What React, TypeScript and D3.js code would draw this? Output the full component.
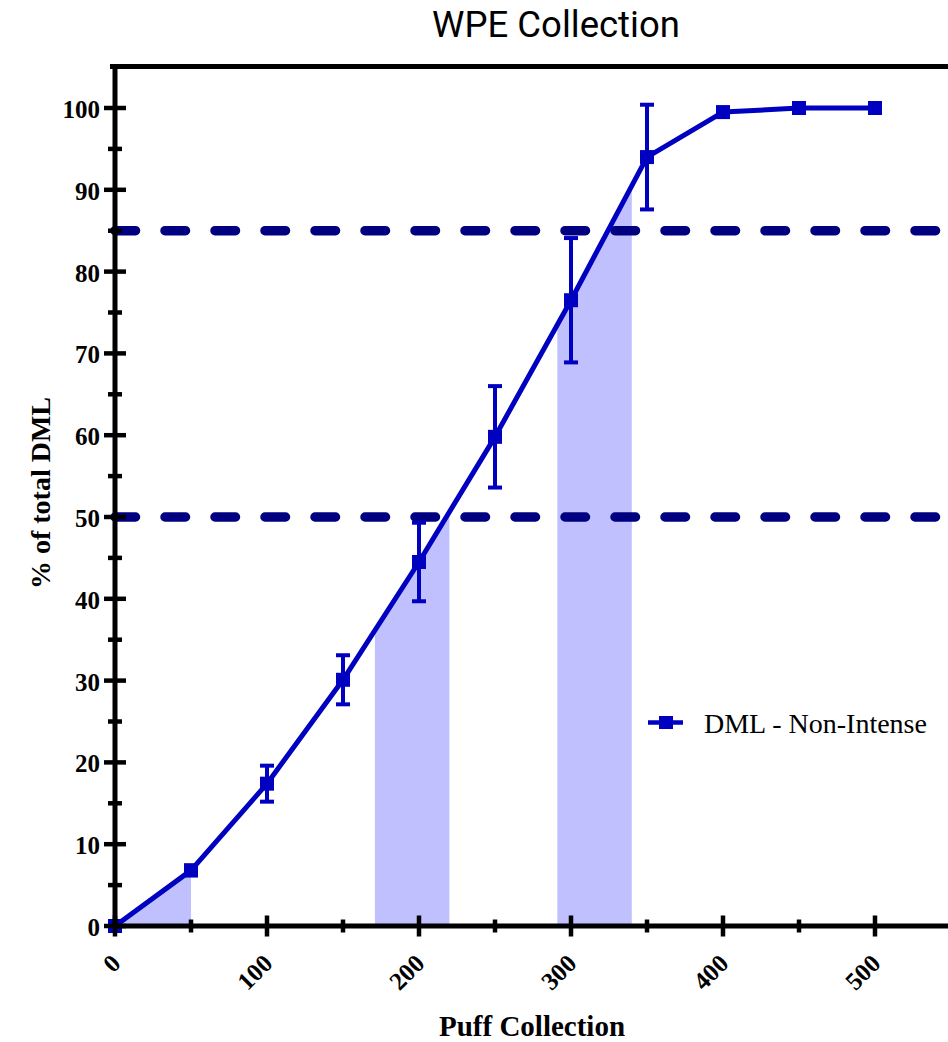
import React from "react";
import * as d3 from "d3";

// Cumulative DML collection (% of total) by puff count
const puffs = [0, 50, 100, 150, 200, 250, 300, 350, 400, 450, 500];
const meanPct = [0, 6.8, 17.4, 30.1, 44.5, 59.8, 76.5, 94.0, 99.5, 100, 100];
const sdPct = [0, 0.6, 2.2, 3.0, 4.8, 6.2, 7.6, 6.4, 0.3, 0, 0];

// Puff windows highlighted under the curve
const shadeRanges: [number, number][] = [
  [0, 50],
  [171, 220],
  [291, 340],
];

// Reference levels (%)
const refLevels = [50, 85];

const xTicks = [0, 100, 200, 300, 400, 500];
const xMinor = [50, 150, 250, 350, 450];
const yTicks = [0, 10, 20, 30, 40, 50, 60, 70, 80, 90, 100];
const yMinor = [5, 15, 25, 35, 45, 55, 65, 75, 85, 95];

const seriesName = "DML - Non-Intense";
const title = "WPE Collection";
const xTitle = "Puff Collection";
const yTitle = "% of total DML";

const W = 948;
const H = 1042;
const LINE = "#0000C0";
const DASH = "#000080";
const SHADE = "#C0C0FF";
const serif = "'Liberation Serif', 'Times New Roman', serif";

export default function App() {
  const x = d3.scaleLinear().domain([0, 550]).range([115, 951]);
  const y = d3.scaleLinear().domain([0, 105]).range([926, 67.1]);

  const interp = (p: number) => {
    for (let i = 0; i < puffs.length - 1; i++) {
      if (p >= puffs[i] && p <= puffs[i + 1]) {
        const t = (p - puffs[i]) / (puffs[i + 1] - puffs[i]);
        return meanPct[i] + t * (meanPct[i + 1] - meanPct[i]);
      }
    }
    return meanPct[meanPct.length - 1];
  };

  const area = d3
    .area<[number, number]>()
    .x((d) => x(d[0]))
    .y0(y(0))
    .y1((d) => y(d[1]));

  const shadePaths = shadeRanges.map(([a, b]) => {
    const pts: [number, number][] = [[a, interp(a)]];
    puffs.forEach((p, i) => {
      if (p > a && p < b) pts.push([p, meanPct[i]]);
    });
    pts.push([b, interp(b)]);
    return area(pts) as string;
  });

  const line = d3
    .line<number>()
    .x((_, i) => x(puffs[i]))
    .y((d) => y(d));

  const axisX0 = x(0);
  const axisY0 = y(0);

  return (
    <svg
      width={W}
      height={H}
      style={{ position: "absolute", left: 0, top: 0, display: "block", background: "#fff" }}
    >
      {/* shaded windows */}
      {shadePaths.map((d, i) => (
        <path key={i} d={d} fill={SHADE} stroke="none" />
      ))}

      {/* reference levels */}
      {refLevels.map((v) => (
        <line
          key={v}
          x1={115}
          x2={W + 10}
          y1={y(v)}
          y2={y(v)}
          stroke={DASH}
          strokeWidth={9.5}
          strokeLinecap="round"
          strokeDasharray="20.5 29.5"
        />
      ))}

      {/* error bars */}
      {puffs.map((p, i) =>
        sdPct[i] > 0.5 ? (
          <g key={p} stroke={LINE} strokeWidth={4}>
            <line x1={x(p)} x2={x(p)} y1={y(meanPct[i] + sdPct[i])} y2={y(meanPct[i] - sdPct[i])} />
            <line x1={x(p) - 7} x2={x(p) + 7} y1={y(meanPct[i] + sdPct[i])} y2={y(meanPct[i] + sdPct[i])} />
            <line x1={x(p) - 7} x2={x(p) + 7} y1={y(meanPct[i] - sdPct[i])} y2={y(meanPct[i] - sdPct[i])} />
          </g>
        ) : null
      )}

      {/* mean curve */}
      <path d={line(meanPct) as string} fill="none" stroke={LINE} strokeWidth={5} strokeLinejoin="round" />
      {puffs.map((p, i) => (
        <rect key={p} x={x(p) - 7} y={y(meanPct[i]) - 7} width={14} height={14} fill={LINE} />
      ))}

      {/* axes */}
      <line x1={110} x2={W + 10} y1={66.5} y2={66.5} stroke="#000" strokeWidth={5} />
      <line x1={axisX0} x2={axisX0} y1={64} y2={axisY0 + 3} stroke="#000" strokeWidth={5} />
      <line x1={axisX0 - 2} x2={W + 10} y1={axisY0} y2={axisY0} stroke="#000" strokeWidth={5} />

      {yTicks.map((t) => (
        <g key={t}>
          <line x1={axisX0 - 11} x2={axisX0 + 11} y1={y(t)} y2={y(t)} stroke="#000" strokeWidth={4.5} />
          <text
            x={100}
            y={y(t)}
            dy="0.4em"
            textAnchor="end"
            fontFamily={serif}
            fontWeight="bold"
            fontSize={25}
            fill="#000"
          >
            {t}
          </text>
        </g>
      ))}
      {yMinor.map((t) => (
        <line key={t} x1={axisX0 - 7} x2={axisX0 + 7} y1={y(t)} y2={y(t)} stroke="#000" strokeWidth={4.5} />
      ))}

      {xTicks.map((t) => (
        <g key={t}>
          <line x1={x(t)} x2={x(t)} y1={axisY0 - 10.5} y2={axisY0 + 10.5} stroke="#000" strokeWidth={4.5} />
          <text
            transform={`translate(${x(t) + 7},965) rotate(-45)`}
            textAnchor="end"
            fontFamily={serif}
            fontWeight="bold"
            fontSize={25}
            fill="#000"
          >
            {t}
          </text>
        </g>
      ))}
      {xMinor.map((t) => (
        <line key={t} x1={x(t)} x2={x(t)} y1={axisY0 - 6.5} y2={axisY0 + 6.5} stroke="#000" strokeWidth={4.5} />
      ))}

      {/* titles */}
      <text x={556} y={37} textAnchor="middle" fontFamily="Roboto, sans-serif" fontSize={36.5} fill="#000">
        {title}
      </text>
      <text
        transform="translate(50,493) rotate(-90)"
        textAnchor="middle"
        fontFamily={serif}
        fontWeight="bold"
        fontSize={28}
        fill="#000"
      >
        {yTitle}
      </text>
      <text x={532} y={1036} textAnchor="middle" fontFamily={serif} fontWeight="bold" fontSize={29} fill="#000">
        {xTitle}
      </text>

      {/* legend */}
      <line x1={648} x2={683} y1={722.5} y2={722.5} stroke={LINE} strokeWidth={4.5} />
      <rect x={666 - 7} y={722.5 - 6.5} width={14} height={13} fill={LINE} />
      <text x={704} y={733} fontFamily={serif} fontSize={28} fill="#000">
        {seriesName}
      </text>
    </svg>
  );
}
